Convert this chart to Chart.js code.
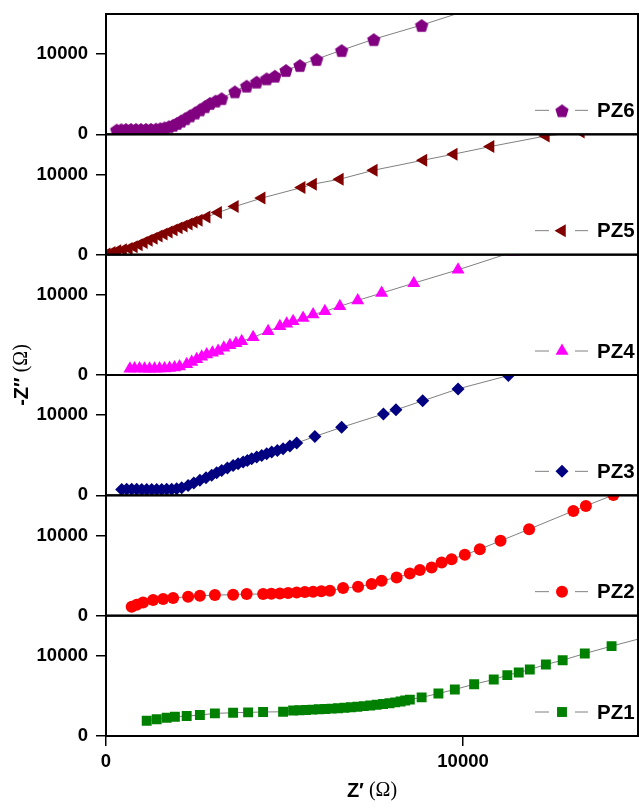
<!DOCTYPE html>
<html>
<head>
<meta charset="utf-8">
<title>Nyquist plots PZ1 - PZ6</title>
<script src="https://cdn.jsdelivr.net/npm/chart.js@4.4.1/dist/chart.umd.min.js"></script>
<style>
	body { margin: 0; background: #ffffff; }
	#wrap { width: 639px; height: 811px; }
</style>
</head>
<body>
<div id="wrap"><canvas id="chart" width="639" height="811"></canvas></div>
<script>
// values: Z' and -Z'' in ohm
var names = ['PZ6', 'PZ5', 'PZ4', 'PZ3', 'PZ2', 'PZ1'];
var xTicks = [0, 10000];
var yTicks = [0, 10000];

var pz6x = [300, 430, 560, 700, 840, 980, 1120, 1260, 1400, 1520, 1640, 1760, 1880, 1990, 2100, 2220, 2350, 2490, 2630, 2770, 2910, 3070, 3240, 3610, 3940, 4220, 4500, 4730, 5040, 5430, 5900, 6600, 7500, 8840, 10500];
var pz6y = [580, 630, 650, 660, 660, 660, 670, 680, 700, 760, 860, 1000, 1180, 1420, 1700, 2000, 2350, 2700, 3100, 3500, 3900, 4200, 4500, 5350, 6060, 6560, 6970, 7300, 8010, 8630, 9380, 10490, 11860, 13620, 16000];

var pz5x = [20, 160, 320, 480, 640, 780, 920, 1060, 1200, 1340, 1480, 1620, 1760, 1900, 2040, 2180, 2320, 2460, 2600, 2820, 3140, 3610, 4360, 5480, 5800, 6550, 7500, 8890, 9740, 10770, 12320, 13300];
var pz5y = [80, 280, 480, 620, 760, 980, 1250, 1520, 1800, 2060, 2320, 2580, 2840, 3090, 3340, 3580, 3820, 4060, 4300, 4700, 5250, 6000, 7050, 8370, 8790, 9410, 10530, 11780, 12530, 13480, 14800, 15300];

var pz4x = [670, 800, 940, 1080, 1220, 1360, 1500, 1640, 1780, 1920, 2060, 2260, 2400, 2540, 2680, 2820, 2980, 3140, 3300, 3470, 3640, 3800, 4120, 4540, 4870, 5060, 5240, 5520, 5800, 6130, 6550, 7050, 7720, 8620, 9860, 11400];
var pz4y = [780, 800, 800, 790, 790, 790, 800, 820, 860, 930, 1060, 1330, 1620, 1950, 2260, 2570, 2780, 2980, 3400, 3700, 3950, 4200, 4700, 5460, 6080, 6380, 6700, 7110, 7530, 7940, 8560, 9300, 10210, 11450, 13110, 15340];

var pz3x = [440, 580, 720, 860, 1000, 1140, 1280, 1420, 1560, 1700, 1840, 1980, 2120, 2300, 2460, 2630, 2800, 2960, 3100, 3240, 3400, 3560, 3700, 3840, 3960, 4080, 4220, 4360, 4500, 4640, 4800, 4960, 5150, 5340, 5850, 6600, 7770, 8120, 8870, 9860, 11270, 12600];
var pz3y = [740, 760, 760, 750, 740, 740, 740, 740, 740, 750, 770, 820, 950, 1240, 1550, 1870, 2180, 2490, 2800, 3110, 3420, 3730, 3940, 4150, 4350, 4560, 4770, 4980, 5180, 5390, 5600, 5810, 6150, 6510, 7340, 8480, 10140, 10660, 11780, 13270, 14930, 16700];

var pz2x = [720, 860, 1040, 1320, 1600, 1880, 2300, 2630, 3050, 3560, 3940, 4400, 4630, 4870, 5100, 5340, 5570, 5800, 6030, 6270, 6640, 7060, 7440, 7720, 8140, 8510, 8790, 9120, 9400, 9680, 10050, 10470, 11050, 11850, 13090, 13440, 14210];
var pz2y = [1120, 1370, 1650, 1950, 2070, 2200, 2360, 2480, 2570, 2610, 2690, 2690, 2730, 2770, 2830, 2900, 2940, 2980, 3040, 3110, 3440, 3600, 3940, 4350, 4760, 5260, 5680, 6010, 6630, 7040, 7580, 8290, 9330, 10780, 13060, 13680, 15050];

var pz1x = [1140, 1420, 1700, 1930, 2260, 2630, 3050, 3560, 3980, 4400, 4960, 5240, 5420, 5600, 5780, 5960, 6140, 6320, 6500, 6680, 6860, 7040, 7220, 7400, 7580, 7760, 7940, 8100, 8250, 8380, 8510, 8840, 9310, 9770, 10310, 10860, 11240, 11560, 11870, 12320, 12790, 13410, 14160, 15600];
var pz1y = [1900, 2080, 2280, 2400, 2490, 2610, 2820, 2900, 2950, 2990, 3020, 3170, 3210, 3250, 3290, 3330, 3370, 3410, 3460, 3520, 3580, 3650, 3730, 3810, 3890, 3980, 4080, 4190, 4300, 4420, 4540, 4810, 5300, 5800, 6460, 7040, 7590, 7920, 8290, 8910, 9450, 10280, 11200, 12900];

var sans = 'Arial, "Liberation Sans", sans-serif';
var serif = '"Times New Roman", "Liberation Serif", serif';

// pentagon marker, chart.js has no such point style
function pentagon(color, r) {
	var c = document.createElement('canvas');
	var s = Math.ceil(r * 2 + 2);
	c.width = s; c.height = s;
	var g = c.getContext('2d');
	g.fillStyle = color;
	g.beginPath();
	for (var i = 0; i < 5; i++) {
		var a = -Math.PI / 2 + i * 2 * Math.PI / 5;
		var px = s / 2 + r * Math.cos(a), py = s / 2 + 1 + r * Math.sin(a);
		if (i === 0) g.moveTo(px, py); else g.lineTo(px, py);
	}
	g.closePath();
	g.fill();
	return c;
}

function pairs(xs, ys) {
	return xs.map(function(x, i) { return {x: x, y: ys[i]}; });
}

var series = [
	{x: pz6x, y: pz6y, color: '#800080', style: pentagon('#800080', 7), radius: 7, rot: 0},
	{x: pz5x, y: pz5y, color: '#800000', style: 'triangle', radius: 7.5, rot: -90},
	{x: pz4x, y: pz4y, color: '#ff00ff', style: 'triangle', radius: 7.5, rot: 0},
	{x: pz3x, y: pz3y, color: '#000080', style: 'rectRot', radius: 6.5, rot: 0},
	{x: pz2x, y: pz2y, color: '#ff0000', style: 'circle', radius: 6, rot: 0},
	{x: pz1x, y: pz1y, color: '#008000', style: 'rect', radius: 7, rot: 0}
];

var ids = ['y6', 'y5', 'y4', 'y3', 'y2', 'y1'];

var datasets = series.map(function(s, i) {
	return {
		label: names[i],
		data: pairs(s.x, s.y),
		yAxisID: ids[i],
		showLine: true,
		borderColor: '#808080',
		borderWidth: 1,
		pointStyle: s.style,
		pointRadius: s.radius,
		pointRotation: s.rot,
		pointBackgroundColor: s.color,
		pointBorderColor: s.color,
		pointBorderWidth: 0,
		clip: 0
	};
});

function onlyTicks(list) {
	return function(scale) {
		scale.ticks = list.map(function(v) { return {value: v}; });
	};
}

function noPadding(s) {
	s.paddingLeft = 0; s.paddingRight = 0; s.paddingTop = 0; s.paddingBottom = 0;
}

var tickGrid = {drawOnChartArea: false, drawTicks: true, tickLength: 10, color: '#000', lineWidth: 1.5};

var scales = {
	x: {
		type: 'linear', position: 'bottom', min: 0, max: 14900,
		afterBuildTicks: onlyTicks(xTicks),
		afterFit: function(s) { s.height = 75; noPadding(s); },
		grid: tickGrid,
		border: {display: true, color: '#000', width: 2},
		ticks: {
			color: '#000', padding: 5, maxRotation: 0,
			font: {family: sans, size: 18.5, weight: 'bold'},
			callback: function(v) { return String(v); }
		}
	}
};
// stacked panels are laid out in reverse order of creation, so bottom panel first
ids.slice().reverse().forEach(function(id) {
	scales[id] = {
		type: 'linear', position: 'left', stack: 'panels', stackWeight: 1,
		min: 0, max: 15000,
		afterBuildTicks: onlyTicks(yTicks),
		afterFit: function(s) { s.width = 106; noPadding(s); },
		grid: tickGrid,
		border: {display: true, color: '#000', width: 2},
		ticks: {
			color: '#000', padding: 8,
			font: {family: sans, size: 18.5, weight: 'bold'},
			callback: function(v) { return String(v); }
		}
	};
});

// panel frames, one legend entry per panel, axis titles
var panelPlugin = {
	id: 'panels',
	afterDatasetsDraw: function(chart) {
		var ctx = chart.ctx, a = chart.chartArea;
		ctx.save();
		ids.forEach(function(id, i) {
			var s = chart.scales[id];
			ctx.strokeStyle = '#000';
			ctx.lineWidth = 2;
			ctx.strokeRect(a.left, s.top, a.right - a.left, s.bottom - s.top);

			var ly = s.bottom - 24;
			ctx.strokeStyle = '#808080';
			ctx.lineWidth = 1;
			ctx.beginPath();
			ctx.moveTo(a.right - 103, ly); ctx.lineTo(a.right - 89, ly);
			ctx.moveTo(a.right - 63, ly); ctx.lineTo(a.right - 50, ly);
			ctx.stroke();
			ctx.fillStyle = series[i].color;
			Chart.helpers.drawPoint(ctx, {
				pointStyle: series[i].style, radius: series[i].radius,
				rotation: series[i].rot, borderWidth: 0
			}, a.right - 76, ly);
			ctx.fillStyle = '#000';
			ctx.font = 'bold 20.5px ' + sans;
			ctx.textAlign = 'left';
			ctx.textBaseline = 'middle';
			ctx.fillText(names[i], a.right - 41, ly + 1);
		});

		// x title: Z' (Ω)
		drawTitle(ctx, (a.left + a.right) / 2, 791, ['Z\u2032', ' (\u03A9)']);
		// y title: -Z'' (Ω), rotated
		ctx.save();
		ctx.translate(22, (a.top + a.bottom) / 2);
		ctx.rotate(-Math.PI / 2);
		drawTitle(ctx, 0, 0, ['-Z\u2033', ' (\u03A9)']);
		ctx.restore();
		ctx.restore();
	}
};

function drawTitle(ctx, cx, cy, parts) {
	var f1 = 'bold 20px ' + sans, f2 = '20px ' + serif;
	ctx.font = f1; var w1 = ctx.measureText(parts[0]).width;
	ctx.font = f2; var w2 = ctx.measureText(parts[1]).width;
	var x0 = cx - (w1 + w2) / 2;
	ctx.fillStyle = '#000';
	ctx.textAlign = 'left';
	ctx.textBaseline = 'middle';
	ctx.font = f1; ctx.fillText(parts[0], x0, cy);
	ctx.font = f2; ctx.fillText(parts[1], x0 + w1, cy);
}

new Chart(document.getElementById('chart').getContext('2d'), {
	type: 'scatter',
	data: {datasets: datasets},
	options: {
		responsive: false,
		animation: false,
		devicePixelRatio: 1,
		layout: {autoPadding: false, padding: {top: 14, right: 1, left: 0, bottom: 0}},
		plugins: {legend: {display: false}, tooltip: {enabled: false}},
		scales: scales
	},
	plugins: [panelPlugin]
});
</script>
</body>
</html>
